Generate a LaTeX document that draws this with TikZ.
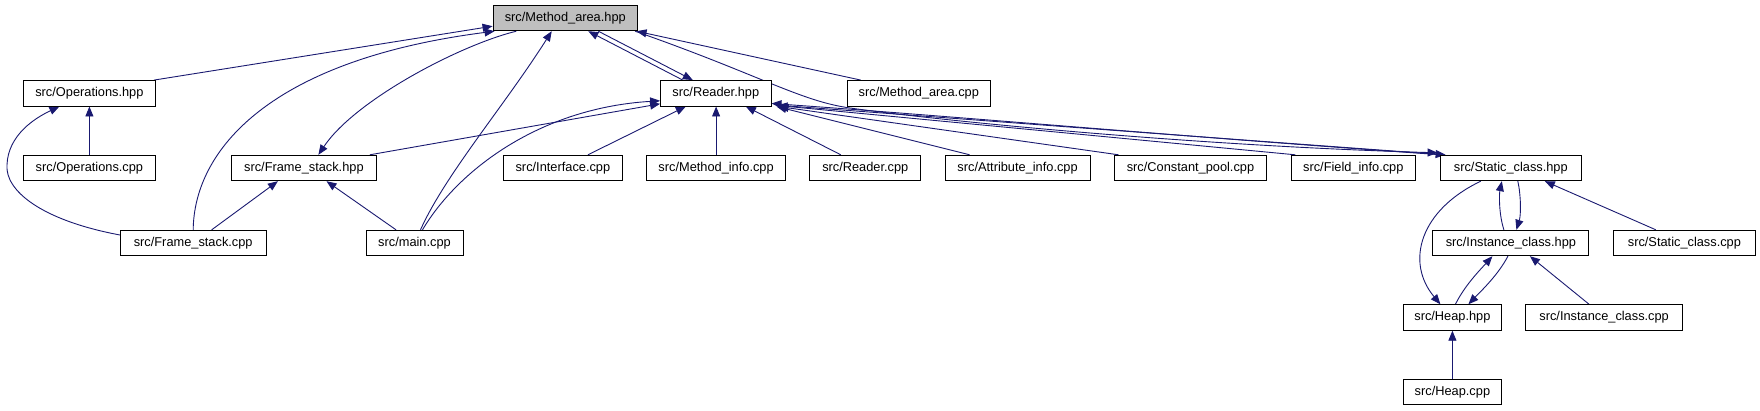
\documentclass[tikz,border=0pt]{standalone}
\usepackage{fontspec}
\setmainfont{Liberation Sans}
\usetikzlibrary{arrows.meta}
\definecolor{edgeblue}{HTML}{191970}
\definecolor{rootgray}{HTML}{BFBFBF}
\pgfdeclarelayer{edgelayer}
\pgfsetlayers{edgelayer,main}
\begin{document}
\begin{tikzpicture}[x=1pt,y=-1pt,
  box/.style={draw=black,line width=0.9pt,fill=white,inner sep=0pt,minimum height=25.5pt,
    font=\fontsize{12.8}{15}\selectfont},
  rootbox/.style={box,fill=rootgray},
  e/.style={draw=edgeblue,line width=0.9pt,-{Triangle[length=10pt,width=8pt,fill=edgeblue]}}]
\useasboundingbox (0,0) rectangle (1760,411);
% nodes
\node[rootbox,minimum width=144.6pt] (ma) at (565.3,18) {src/Method\_area.hpp};
\node[box,minimum width=132.2pt] (ops) at (89.4,93.3) {src/Operations.hpp};
\node[box,minimum width=110.5pt] (rd) at (715.8,93.3) {src/Reader.hpp};
\node[box,minimum width=143.6pt] (macpp) at (918.8,93.3) {src/Method\_area.cpp};
\node[box,minimum width=132.2pt] (opscpp) at (89.4,168) {src/Operations.cpp};
\node[box,minimum width=144.9pt] (fshpp) at (303.9,168) {src/Frame\_stack.hpp};
\node[box,minimum width=119.1pt] (ifc) at (562.9,168) {src/Interface.cpp};
\node[box,minimum width=139.2pt] (mi) at (716.1,168) {src/Method\_info.cpp};
\node[box,minimum width=111pt] (rdcpp) at (865.3,168) {src/Reader.cpp};
\node[box,minimum width=145.3pt] (attr) at (1017.6,168) {src/Attribute\_info.cpp};
\node[box,minimum width=152.4pt] (cp) at (1190.5,168) {src/Constant\_pool.cpp};
\node[box,minimum width=124.2pt] (fi) at (1353.3,168) {src/Field\_info.cpp};
\node[box,minimum width=141.5pt] (st) at (1510.8,168) {src/Static\_class.hpp};
\node[box,minimum width=145.6pt] (fscpp) at (193.2,243) {src/Frame\_stack.cpp};
\node[box,minimum width=97pt] (main) at (414.5,243) {src/main.cpp};
\node[box,minimum width=156pt] (in) at (1510.9,243) {src/Instance\_class.hpp};
\node[box,minimum width=142pt] (scpp) at (1684.4,243) {src/Static\_class.cpp};
\node[box,minimum width=98.9pt] (hp) at (1452.4,317.5) {src/Heap.hpp};
\node[box,minimum width=156.4pt] (icpp) at (1604.1,317.5) {src/Instance\_class.cpp};
\node[box,minimum width=98.9pt] (hpcpp) at (1452.4,392) {src/Heap.cpp};
\begin{pgfonlayer}{edgelayer}
% edges into Method_area.hpp
\draw[e] ([xshift=-2pt]ops.north east) -- ([yshift=5pt]ma.south west);
\draw[e] (fscpp.north) .. controls (194,150) and (270,60) .. ([xshift=2pt]ma.south west);
\draw[e] ([xshift=-49pt]ma.south) .. controls (460,45) and (355,100) .. ([xshift=14.5pt]fshpp.north);
\draw[e] ([xshift=6pt]main.north) .. controls (445,175) and (505,105) .. ([xshift=-13.6pt]ma.south);
\draw[e] ([xshift=-33pt]rd.north) -- ([xshift=23pt]ma.south);
\draw[e] ([xshift=33pt]ma.south) -- ([xshift=-23pt]rd.north);
\draw[e] ([xshift=-58pt]macpp.north) -- ([xshift=-1.5pt]ma.south east);
\draw[e] ([xshift=-3pt]ma.south east) .. controls (760,75) and (800,101) .. (850,108)
  .. controls (950,122) and (1200,146) .. ([xshift=-2pt,yshift=2pt]st.north west);
% edges into Reader.hpp
\draw[e] ([xshift=-7pt]fshpp.north east) -- ([yshift=-10.5pt]rd.west);
\draw[e] ([xshift=8pt]main.north) .. controls (458,170) and (540,108) .. ([yshift=-7.5pt]rd.west);
\draw[e] ([xshift=25pt]ifc.north) -- ([xshift=-30pt]rd.south);
\draw[e] (mi.north) -- (mi.north |- rd.south);
\draw[e] ([xshift=-24.5pt]rdcpp.north) -- ([xshift=30pt]rd.south);
\draw[e] ([xshift=-48pt]attr.north) -- ([xshift=5pt]rd.south east);
\draw[e] ([xshift=-72pt]cp.north) -- ([xshift=7pt]rd.south east);
\draw[e] ([xshift=-58pt]fi.north) -- ([xshift=6pt,yshift=1pt]rd.south east);
\draw[e] ([xshift=2pt]st.north west) .. controls (1200,138) and (950,116) .. ([yshift=3pt]rd.south east);
\draw[e] ([xshift=10pt,yshift=1pt]rd.south east) .. controls (950,118) and (1200,137) .. ([xshift=6pt]st.north west);
% left cluster
\draw[e] (opscpp.north) -- (ops.south);
\draw[e] ([yshift=8pt]fscpp.west) .. controls (40,220) and (5,190) .. (7,165)
  .. controls (8,135) and (35,118) .. ([xshift=-30pt]ops.south);
\draw[e] ([xshift=18.5pt]fscpp.north) -- ([xshift=-26pt]fshpp.south);
\draw[e] ([xshift=-18.5pt]main.north) -- ([xshift=22.6pt]fshpp.south);
% right cluster
\draw[e] ([xshift=-30pt]st.south) .. controls (1420,210) and (1405,262) .. ([xshift=-12pt]hp.north);
\draw[e] ([xshift=-7pt]in.north) .. controls (1499,215) and (1499,195) .. ([xshift=-9pt]st.south);
\draw[e] ([xshift=7pt]st.south) .. controls (1521,195) and (1521,215) .. ([xshift=5.5pt]in.north);
\draw[e] ([xshift=3pt]hp.north) .. controls (1465,285) and (1480,270) .. ([xshift=-18.5pt]in.south);
\draw[e] ([xshift=-3pt]in.south) .. controls (1498,275) and (1482,290) .. ([xshift=16pt]hp.north);
\draw[e] ([xshift=-28.6pt]scpp.north) -- ([xshift=34pt]st.south);
\draw[e] ([xshift=-15pt]icpp.north) -- ([xshift=19pt]in.south);
\draw[e] (hpcpp.north) -- (hp.south);
\end{pgfonlayer}
\end{tikzpicture}
\end{document}
